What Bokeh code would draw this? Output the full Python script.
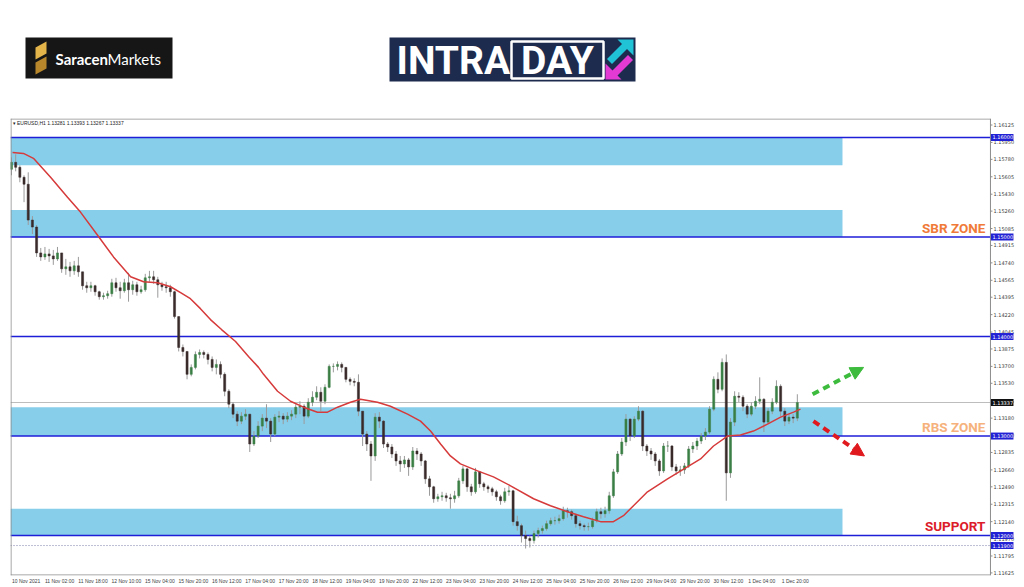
from bokeh.plotting import figure
from bokeh.layouts import column
from bokeh.models import (Range1d, FixedTicker, Label, Arrow, NormalHead, ColumnDataSource)
from bokeh.core.properties import value
from bokeh.embed import file_html
from bokeh.resources import INLINE

# ---------------- data (EURUSD H1, shown as 2-hour candles) ----------------
first_open = 1.1568
closes = [
    1.1575, 1.1570, 1.1560, 1.1553, 1.1517, 1.1510, 1.1484, 1.1480, 1.1483, 1.1481,
    1.1478, 1.1484, 1.1468, 1.1470, 1.1466, 1.1471, 1.1465, 1.1451, 1.1449, 1.1451,
    1.1445, 1.1440, 1.1441, 1.1443, 1.1454, 1.1449, 1.1446, 1.1454, 1.1447, 1.1452,
    1.1445, 1.1447, 1.1459, 1.1460, 1.1457, 1.1452, 1.1450, 1.1449, 1.1445, 1.1420,
    1.1389, 1.1385, 1.1362, 1.1369, 1.1382, 1.1384, 1.1382, 1.1377, 1.1369, 1.1372,
    1.1362, 1.1345, 1.1332, 1.1322, 1.1315, 1.1320, 1.1322, 1.1292, 1.1300, 1.1310,
    1.1318, 1.1315, 1.1302, 1.1319, 1.1320, 1.1317, 1.1320, 1.1322, 1.1329, 1.1330,
    1.1320, 1.1334, 1.1339, 1.1344, 1.1335, 1.1349, 1.1370, 1.1370, 1.1372, 1.1369,
    1.1357, 1.1355, 1.1354, 1.1325, 1.1302, 1.1292, 1.1280, 1.1319, 1.1315, 1.1292,
    1.1289, 1.1282, 1.1275, 1.1272, 1.1276, 1.1269, 1.1285, 1.1282, 1.1275, 1.1257,
    1.1249, 1.1237, 1.1239, 1.1240, 1.1238, 1.1237, 1.1240, 1.1255, 1.1267, 1.1249,
    1.1244, 1.1264, 1.1252, 1.1249, 1.1247, 1.1244, 1.1239, 1.1235, 1.1244, 1.1245,
    1.1214, 1.1210, 1.1200, 1.1197, 1.1195, 1.1202, 1.1205, 1.1207, 1.1212, 1.1215,
    1.1215, 1.1217, 1.1225, 1.1224, 1.1220, 1.1212, 1.1210, 1.1209, 1.1209, 1.1215,
    1.1224, 1.1222, 1.1225, 1.1240, 1.1264, 1.1282, 1.1294, 1.1317, 1.1300, 1.1317,
    1.1325, 1.1290, 1.1285, 1.1282, 1.1275, 1.1265, 1.1290, 1.1290, 1.1269, 1.1265,
    1.1266, 1.1270, 1.1287, 1.1290, 1.1295, 1.1300, 1.1304, 1.1327, 1.1357, 1.1347,
    1.1374, 1.1263, 1.1314, 1.1340, 1.1339, 1.1330, 1.1322, 1.1330, 1.1335, 1.1337,
    1.1314, 1.1325, 1.1334, 1.1350, 1.1325, 1.1315, 1.1319, 1.1318, 1.13337,
]
highs = [
    1.1580, 1.1583, 1.1572, 1.1562, 1.1565, 1.1521, 1.1512, 1.1489, 1.1490, 1.1488,
    1.1487, 1.1490, 1.1484, 1.1478, 1.1475, 1.1476, 1.1480, 1.1465, 1.1455, 1.1455,
    1.1452, 1.1446, 1.1444, 1.1446, 1.1458, 1.1459, 1.1455, 1.1458, 1.1464, 1.1456,
    1.1455, 1.1451, 1.1463, 1.1466, 1.1466, 1.1460, 1.1455, 1.1455, 1.1452, 1.1446,
    1.1420, 1.1392, 1.1385, 1.1372, 1.1385, 1.1387, 1.1386, 1.1384, 1.1380, 1.1377,
    1.1375, 1.1364, 1.1347, 1.1334, 1.1325, 1.1324, 1.1327, 1.1322, 1.1305, 1.1315,
    1.1322, 1.1332, 1.1318, 1.1322, 1.1325, 1.1323, 1.1324, 1.1326, 1.1332, 1.1335,
    1.1332, 1.1338, 1.1345, 1.1350, 1.1349, 1.1352, 1.1372, 1.1373, 1.1375, 1.1374,
    1.1369, 1.1359, 1.1358, 1.1362, 1.1325, 1.1305, 1.1295, 1.1323, 1.1324, 1.1316,
    1.1294, 1.1292, 1.1285, 1.1280, 1.1280, 1.1278, 1.1289, 1.1288, 1.1284, 1.1276,
    1.1260, 1.1250, 1.1242, 1.1244, 1.1243, 1.1242, 1.1245, 1.1258, 1.1270, 1.1268,
    1.1252, 1.1268, 1.1265, 1.1254, 1.1251, 1.1249, 1.1246, 1.1241, 1.1248, 1.1250,
    1.1246, 1.1220, 1.1212, 1.1205, 1.1200, 1.1205, 1.1208, 1.1210, 1.1215, 1.1218,
    1.1219, 1.1221, 1.1229, 1.1228, 1.1226, 1.1222, 1.1215, 1.1212, 1.1213, 1.1218,
    1.1227, 1.1228, 1.1229, 1.1244, 1.1267, 1.1285, 1.1298, 1.1322, 1.1318, 1.1320,
    1.1330, 1.1326, 1.1292, 1.1288, 1.1284, 1.1277, 1.1293, 1.1295, 1.1291, 1.1272,
    1.1270, 1.1273, 1.1290, 1.1294, 1.1298, 1.1303, 1.1308, 1.1330, 1.1360, 1.1364,
    1.1378, 1.1382, 1.1318, 1.1345, 1.1344, 1.1341, 1.1332, 1.1334, 1.1340, 1.1359,
    1.1338, 1.1328, 1.1338, 1.1356, 1.1352, 1.1328, 1.1322, 1.1322, 1.1342,
]
lows = [
    1.1562, 1.1566, 1.1555, 1.1535, 1.1512, 1.1503, 1.1480, 1.1476, 1.1477, 1.1475,
    1.1472, 1.1476, 1.1464, 1.1462, 1.1460, 1.1462, 1.1460, 1.1447, 1.1444, 1.1445,
    1.1441, 1.1437, 1.1437, 1.1438, 1.1440, 1.1445, 1.1438, 1.1444, 1.1435, 1.1442,
    1.1441, 1.1443, 1.1445, 1.1455, 1.1453, 1.1439, 1.1446, 1.1444, 1.1440, 1.1418,
    1.1385, 1.1380, 1.1357, 1.1360, 1.1367, 1.1378, 1.1378, 1.1372, 1.1365, 1.1362,
    1.1358, 1.1340, 1.1328, 1.1318, 1.1310, 1.1312, 1.1316, 1.1284, 1.1290, 1.1298,
    1.1305, 1.1308, 1.1294, 1.1300, 1.1314, 1.1312, 1.1314, 1.1316, 1.1318, 1.1322,
    1.1312, 1.1318, 1.1330, 1.1336, 1.1325, 1.1332, 1.1348, 1.1364, 1.1366, 1.1364,
    1.1354, 1.1351, 1.1350, 1.1320, 1.1290, 1.1285, 1.1255, 1.1275, 1.1308, 1.1288,
    1.1284, 1.1278, 1.1270, 1.1264, 1.1268, 1.1260, 1.1266, 1.1276, 1.1270, 1.1252,
    1.1240, 1.1233, 1.1234, 1.1235, 1.1234, 1.1227, 1.1233, 1.1238, 1.1252, 1.1244,
    1.1240, 1.1242, 1.1248, 1.1245, 1.1243, 1.1240, 1.1235, 1.1231, 1.1233, 1.1240,
    1.1210, 1.1205, 1.1193, 1.1187, 1.1188, 1.1192, 1.1198, 1.1202, 1.1205, 1.1210,
    1.1211, 1.1212, 1.1215, 1.1218, 1.1216, 1.1208, 1.1206, 1.1205, 1.1205, 1.1207,
    1.1213, 1.1217, 1.1218, 1.1222, 1.1238, 1.1262, 1.1280, 1.1290, 1.1295, 1.1298,
    1.1315, 1.1285, 1.1280, 1.1276, 1.1270, 1.1260, 1.1263, 1.1284, 1.1265, 1.1261,
    1.1260, 1.1262, 1.1268, 1.1283, 1.1286, 1.1292, 1.1296, 1.1302, 1.1325, 1.1343,
    1.1345, 1.1235, 1.1258, 1.1310, 1.1334, 1.1325, 1.1318, 1.1320, 1.1327, 1.1332,
    1.1304, 1.1312, 1.1322, 1.1332, 1.1320, 1.1310, 1.1312, 1.1313, 1.1315,
]
bar_step = 2  # hours per candle (x axis is in hourly bar index)

# moving average: hourly-bar index, price
ma_x = [0.5, 5.7, 10.5, 18.7, 26.8, 33.0, 41.1, 48.8, 57.0, 63.2, 69.9, 76.1, 80.9,
        85.6, 90.4, 95.2, 100.5, 107.2, 113.4, 118.2, 120.6, 127.3, 133.5, 139.7,
        146.4, 151.2, 156.0, 162.2, 167.0, 175.1, 181.3, 189.5, 195.7, 200.5, 205.3,
        210.0, 214.8, 223.0, 230.6, 238.8, 249.8, 257.9, 266.0, 273.7, 281.8, 288.0,
        292.8, 297.6, 304.3, 313.9, 323.4, 329.7, 335.9, 342.6, 348.8, 355.0, 361.7,
        368.0, 374.2, 377.5]
ma_y = [1.1585, 1.1584, 1.1579, 1.1560, 1.1540, 1.1525, 1.1502, 1.1480, 1.1460, 1.1455,
        1.1454, 1.1450, 1.1444, 1.1438, 1.1428, 1.1417, 1.1407, 1.1395, 1.1380, 1.1369,
        1.1362, 1.1345, 1.1335, 1.1329, 1.1324, 1.1324, 1.1329, 1.1334, 1.1337, 1.1334,
        1.1330, 1.1322, 1.1315, 1.1305, 1.1292, 1.1280, 1.1272, 1.1265, 1.1259, 1.1250,
        1.1237, 1.1230, 1.1224, 1.1219, 1.1214, 1.1214, 1.1220, 1.1230, 1.1244, 1.1257,
        1.1269, 1.1277, 1.1290, 1.1300, 1.1301, 1.1305, 1.1312, 1.1319, 1.1324, 1.1327]

# zones and levels
zone_bottoms = [1.1572, 1.1500, 1.1300, 1.1200]
zone_tops = [1.1600, 1.1527, 1.1329, 1.1227]
zone_right = 397.6
levels = [1.16, 1.15, 1.14, 1.13, 1.12]
level_labels = ["1.16000", "1.15000", "1.14000", "1.13000", "1.12000"]
dotted_level = 1.119
dotted_label = "1.11900"
current_price = 1.13337
current_label = "1.13337"
zone_names = ["SBR ZONE", "RBS ZONE", "SUPPORT"]
zone_name_y = [1.1509, 1.1309, 1.1210]
zone_name_colors = ["#f07a38", "#f6b27c", "#dc1c2a"]

y_ticks = [1.16125, 1.15950, 1.15780, 1.15605, 1.15430, 1.15260, 1.15085, 1.14915,
           1.14740, 1.14565, 1.14395, 1.14220, 1.14045, 1.13875, 1.13700, 1.13530,
           1.13355, 1.13180, 1.13010, 1.12835, 1.12660, 1.12490, 1.12315, 1.12140,
           1.11970, 1.11795, 1.11625]
y_tick_labels = ["1.16125", "1.15950", "1.15780", "1.15605", "1.15430", "1.15260",
                 "1.15085", "1.14915", "1.14740", "1.14565", "1.14395", "1.14220",
                 "1.14045", "1.13875", "1.13700", "1.13530", "1.13355", "1.13180",
                 "1.13010", "1.12835", "1.12660", "1.12490", "1.12315", "1.12140",
                 "1.11970", "1.11795", "1.11625"]
x_tick_pos = [0, 16, 32, 48, 64, 80, 96, 112, 128, 144, 160, 176, 192, 208, 224,
              240, 256, 272, 288, 304, 320, 336, 352, 368]
x_tick_labels = ["10 Nov 2021", "11 Nov 02:00", "11 Nov 18:00", "12 Nov 10:00",
                 "15 Nov 04:00", "15 Nov 20:00", "16 Nov 12:00", "17 Nov 04:00",
                 "17 Nov 20:00", "18 Nov 12:00", "19 Nov 04:00", "19 Nov 20:00",
                 "22 Nov 12:00", "23 Nov 04:00", "23 Nov 20:00", "24 Nov 12:00",
                 "25 Nov 04:00", "25 Nov 20:00", "26 Nov 12:00", "29 Nov 04:00",
                 "29 Nov 20:00", "30 Nov 12:00", "1 Dec 04:00", "1 Dec 20:00"]
title_text = "\u25be EURUSD,H1  1.13281 1.13393 1.13267 1.13337"

BOLD = "Roboto"

# ---------------- header with logos (page pixel coordinates) ----------------
h = figure(width=1024, height=118, x_range=Range1d(10, 1024), y_range=Range1d(118, 0),
           x_axis_type=None, y_axis_type=None, output_backend="svg",
           toolbar_location=None, min_border_left=10, min_border_right=0,
           min_border_top=0, min_border_bottom=0, outline_line_color=None)
h.quad(left=[25], right=[172], top=[37], bottom=[78], fill_color="#161616", line_color=None)
h.patch([35, 46, 46, 35], [47, 41, 53, 59], fill_color="#e3b44a", line_color=None)
h.patch([35, 46, 46, 35], [62, 56, 68, 74], fill_color="#b8872c", line_color=None)
h.add_layout(Label(x=55, y=58, text="Saracen", text_color="white", text_font="Lato",
                   text_font_style="bold", text_font_size="15px", text_baseline="middle"))
h.add_layout(Label(x=107, y=58, text="Markets", text_color="white", text_font="Lato",
                   text_font_size="15px", text_baseline="middle"))
h.quad(left=[389], right=[635], top=[37], bottom=[81], fill_color="#1d2b4e", line_color=None)
h.add_layout(Label(x=396, y=60, text="INTRA", text_color="white",
                   text_font=BOLD, text_font_style="bold",
                   text_font_size="39px", text_baseline="middle"))
h.quad(left=[511], right=[603], top=[41], bottom=[78], fill_color=None,
       line_color="white", line_width=2.5)
h.add_layout(Label(x=557, y=60, text="DAY", text_color="white",
                   text_font=BOLD, text_font_style="bold",
                   text_font_size="39px", text_baseline="middle", text_align="center"))
h.line([609, 625], [61, 45], line_color="#20c2d6", line_width=7)
h.patch([617, 633, 633], [39, 39, 55], fill_color="#20c2d6", line_color=None)
h.line([630, 614], [57, 73], line_color="#e23ad2", line_width=7)
h.patch([605, 605, 621], [63, 79, 79], fill_color="#e23ad2", line_color=None)

# ---------------- main chart ----------------
x_left, x_axis_pos, x_right = -0.478, 468.4, 484.69
y_bot, y_top = 1.115990, 1.161905
p = figure(width=1024, height=468, x_range=Range1d(x_left, x_right),
           y_range=Range1d(y_bot, y_top), y_axis_type=None,
           output_backend="svg", toolbar_location=None,
           min_border_left=10, min_border_right=0, min_border_top=0, min_border_bottom=10,
           outline_line_color=None)
p.xgrid.visible = False
p.background_fill_color = "white"

# zones and level lines
p.quad(left=[x_left] * len(zone_tops), right=[zone_right] * len(zone_tops),
       top=zone_tops, bottom=zone_bottoms, fill_color="#87ceeb", line_color=None)
p.segment(x0=[x_left] * len(levels), y0=levels, x1=[x_axis_pos] * len(levels), y1=levels,
          line_color="#1e1ed8", line_width=1.5)
p.segment(x0=[x_left], y0=[dotted_level], x1=[x_axis_pos], y1=[dotted_level],
          line_color="#7a7aa8", line_width=1, line_dash="1 2")
p.segment(x0=[x_left], y0=[current_price], x1=[x_axis_pos], y1=[current_price],
          line_color="#bdbdbd", line_width=1)

# candles
n = len(closes)
opens = [first_open] + closes[:-1]
xs = [bar_step * k for k in range(n)]
colors = ["#3a7f45" if c >= o else "#3a2b2b" for o, c in zip(opens, closes)]
src = ColumnDataSource(dict(x=xs, o=opens, c=closes, h=highs, l=lows, col=colors))
p.segment(x0="x", y0="h", x1="x", y1="l", source=src, line_color="#9a9a9a", line_width=1)
p.vbar(x="x", width=1.0, top="c", bottom="o", source=src, fill_color="col", line_color="col",
       line_width=0.5)
p.line(ma_x, ma_y, line_color="#d63a3a", line_width=1.5)

# frame (MT4 style: price scale on the right)
px = (x_right - x_left) / 1014.0
py = (y_top - y_bot) / 458.0
frame_col = "#8c8c8c"
p.segment(x0=[x_left, x_left, x_left + 0.5 * px, x_axis_pos],
          y0=[y_top - 0.5 * py, y_bot + 0.5 * py, y_bot, y_bot],
          x1=[x_axis_pos, x_axis_pos, x_left + 0.5 * px, x_axis_pos],
          y1=[y_top - 0.5 * py, y_bot + 0.5 * py, y_top, y_top],
          line_color=frame_col, line_width=1)
# price scale: tick marks and labels
p.segment(x0=[x_axis_pos] * len(y_ticks), y0=y_ticks,
          x1=[x_axis_pos + 2 * px] * len(y_ticks), y1=y_ticks,
          line_color=frame_col, line_width=1)
p.text(x=[x_axis_pos + 3 * px] * len(y_ticks), y=y_ticks, text=y_tick_labels,
       text_font_size="5px", text_color="#404040", text_baseline="middle",
       text_font=value("DejaVu Sans"))

# price boxes on the scale
box_y = levels + [dotted_level]
box_txt = level_labels + [dotted_label]
p.quad(left=[x_axis_pos + 0.5 * px] * len(box_y), right=[x_axis_pos + 23 * px] * len(box_y),
       top=[v + 3.5 * py for v in box_y], bottom=[v - 3.5 * py for v in box_y],
       fill_color="#2222d4", line_color=None)
p.text(x=[x_axis_pos + 2 * px] * len(box_y), y=box_y, text=box_txt,
       text_font_size="5px", text_color="white", text_baseline="middle",
       text_font=value("DejaVu Sans"))
p.quad(left=[x_axis_pos + 0.5 * px], right=[x_axis_pos + 23 * px],
       top=[current_price + 3.5 * py], bottom=[current_price - 3.5 * py],
       fill_color="#111111", line_color=None)
p.text(x=[x_axis_pos + 2 * px], y=[current_price], text=[current_label],
       text_font_size="5px", text_color="white", text_baseline="middle",
       text_font=value("DejaVu Sans"))

# time axis
xa = p.xaxis[0]
label_shift = 7
xa.ticker = FixedTicker(ticks=[v + label_shift for v in x_tick_pos])
xa.major_label_overrides = {v + label_shift: s for v, s in zip(x_tick_pos, x_tick_labels)}
xa.major_label_text_font_size = "5px"
xa.major_label_text_color = "#404040"
xa.major_label_standoff = 2
xa.major_tick_out = 0
xa.major_tick_in = 0
xa.major_tick_line_color = None
xa.minor_tick_line_color = None
xa.axis_line_color = None

# zone names
for nm, yy, cc in zip(zone_names, zone_name_y, zone_name_colors):
    p.add_layout(Label(x=466.0, y=yy, text=nm, text_color=cc,
                       text_font=BOLD, text_font_style="bold",
                       text_font_size="13.5px", text_align="right", text_baseline="middle"))

p.add_layout(Label(x=0.5, y=1.1615, text=title_text, text_font_size="5px",
                   text_color="#222222", text_baseline="middle"))

# scenario arrows
p.add_layout(Arrow(x_start=383.3, y_start=1.1342, x_end=407.7, y_end=1.1369,
                   line_color="#3dbb3d", line_width=4, line_dash="7 5",
                   end=NormalHead(size=13, fill_color="#3dbb3d", line_color="#3dbb3d")))
p.add_layout(Arrow(x_start=383.7, y_start=1.1315, x_end=408.1, y_end=1.1280,
                   line_color="#e0191e", line_width=4, line_dash="7 5",
                   end=NormalHead(size=13, fill_color="#e0191e", line_color="#e0191e")))

layout = column(h, p, spacing=0)
open("out.html", "w").write(file_html(layout, INLINE))
